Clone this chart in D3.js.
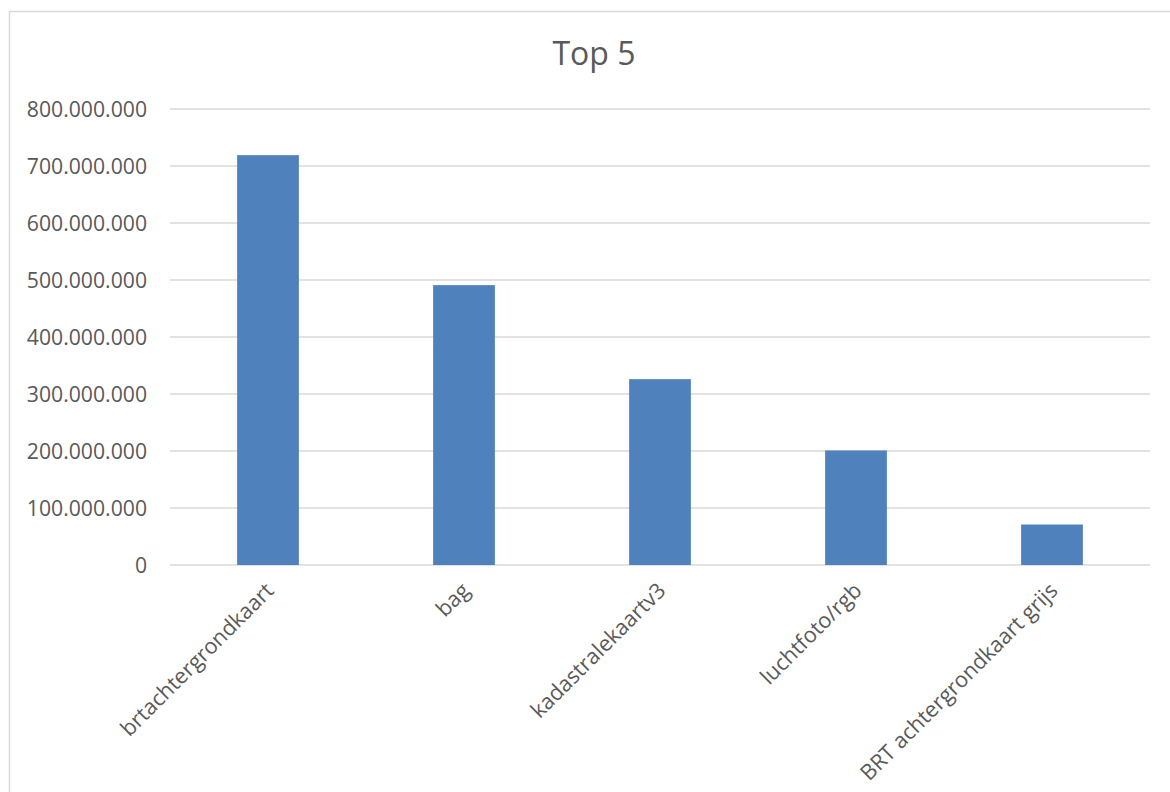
<!DOCTYPE html>
<html>
<head>
<meta charset="utf-8">
<script src="https://cdn.jsdelivr.net/npm/d3@7"></script>
<style>
  body { margin: 0; background: #fff; }
  svg { display: block; }
  text { font-family: "Open Sans", sans-serif; fill: #595959; }
</style>
</head>
<body>
<svg width="1170" height="792"></svg>
<script>
let width = 1170, height = 792;

// data
let categories = ["brtachtergrondkaart", "bag", "kadastralekaartv3", "luchtfoto/rgb", "BRT achtergrondkaart grijs"];
let values = [719000000, 491000000, 326000000, 201000000, 71000000];
let yTicks = [0, 100000000, 200000000, 300000000, 400000000, 500000000, 600000000, 700000000, 800000000];

let svg = d3.select("svg");

// chart area border
svg.append("rect")
    .attr("x", 9.5).attr("y", 11.5)
    .attr("width", width + 20).attr("height", height + 20)
    .attr("fill", "none")
    .attr("stroke", "#d9d9d9")
    .attr("stroke-width", 1.5);

let x = d3.scaleBand().domain(categories).range([170, 1150]).paddingInner(0.685).paddingOuter(0.3425);
let y = d3.scaleLinear().domain([0, 800000000]).range([565, 109]);

let fmt = v => d3.format(",")(v).replace(/,/g, ".");

// gridlines
svg.append("g")
    .selectAll("line")
    .data(yTicks)
    .enter()
    .append("line")
    .attr("x1", 170).attr("x2", 1150)
    .attr("y1", d => y(d)).attr("y2", d => y(d))
    .attr("stroke", "#d9d9d9")
    .attr("stroke-width", 1.5);

// y labels
svg.append("g")
    .selectAll("text")
    .data(yTicks)
    .enter()
    .append("text")
    .attr("x", 147)
    .attr("y", d => y(d) + 7.5)
    .attr("text-anchor", "end")
    .attr("font-size", 21.2)
    .text(fmt);

// bars
svg.append("g")
    .selectAll("rect")
    .data(values)
    .enter()
    .append("rect")
    .attr("x", (d, i) => x(categories[i]))
    .attr("width", x.bandwidth())
    .attr("y", d => y(d))
    .attr("height", d => y(0) - y(d))
    .attr("fill", "#4f81bd");

// category labels
svg.append("g")
    .selectAll("text")
    .data(categories)
    .enter()
    .append("text")
    .attr("transform", d => `translate(${x(d) + x.bandwidth() / 2 + 7},${592}) rotate(-45)`)
    .attr("text-anchor", "end")
    .attr("font-size", 21.6)
    .text(d => d);

// title
svg.append("text")
    .attr("x", 594)
    .attr("y", 65)
    .attr("text-anchor", "middle")
    .attr("font-size", 32)
    .text("Top 5");
</script>
</body>
</html>
